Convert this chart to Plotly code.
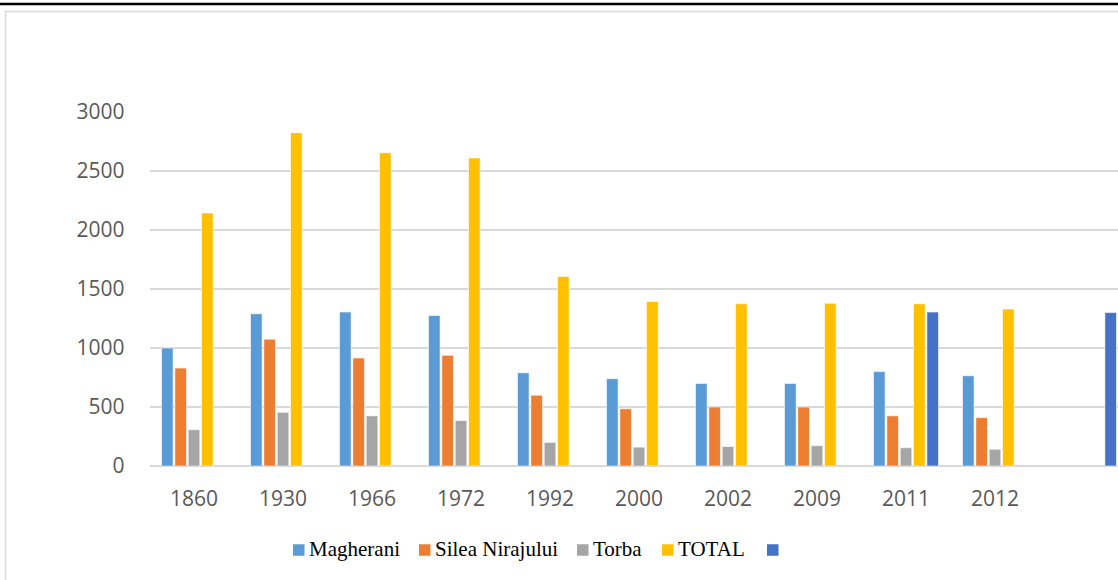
import plotly.graph_objects as go

years = ["1860", "1930", "1966", "1972", "1992", "2000", "2002", "2009", "2011", "2012", " "]
magherani = [1000, 1290, 1305, 1275, 790, 740, 700, 700, 800, 765, None]
silea = [830, 1075, 915, 938, 600, 485, 500, 500, 425, 410, None]
torba = [308, 455, 425, 385, 200, 160, 165, 172, 155, 142, None]
total = [2145, 2825, 2655, 2610, 1605, 1395, 1375, 1380, 1375, 1330, None]
extra = [None, None, None, None, None, None, None, None, 1305, None, 1300]

series_names = ["Magherani", "Silea Nirajului", "Torba", "TOTAL", ""]
series_values = [magherani, silea, torba, total, extra]
series_colors = ["#5B9BD5", "#ED7D31", "#A5A5A5", "#FFC000", "#4472C4"]

W, H = 1118, 580
fig = go.Figure()
for name, vals, col in zip(series_names, series_values, series_colors):
    fig.add_trace(go.Bar(x=years, y=vals, name=name or " ", showlegend=False,
                         marker=dict(color=col, line=dict(color="white", width=0.6))))

# legend drawn as layout items (swatch + text), Excel-like spacing
legend_x = [293, 419, 577, 662, 767]   # left edge of each swatch, px
legend_y = 550
sw = 11.5
shapes = [
    dict(type="rect", xref="paper", yref="paper", x0=5.5 / W, x1=1.02, y0=-0.05, y1=1 - 11.5 / H,
         line=dict(color="#D9D9D9", width=1.5), fillcolor="rgba(0,0,0,0)", layer="below"),
    dict(type="line", xref="paper", yref="paper", x0=0, x1=1, y0=1 - 4 / H, y1=1 - 4 / H,
         line=dict(color="black", width=2.5)),
]
annotations = []
for lx, name, col in zip(legend_x, series_names, series_colors):
    shapes.append(dict(type="rect", xref="paper", yref="paper",
                       x0=lx / W, x1=(lx + sw) / W,
                       y0=1 - (legend_y + sw / 2) / H, y1=1 - (legend_y - sw / 2) / H,
                       line=dict(width=0), fillcolor=col))
    if name:
        annotations.append(dict(text=name, xref="paper", yref="paper",
                                x=(lx + sw + 2.5) / W, y=1 - (legend_y - 1) / H,
                                xanchor="left", yanchor="middle", showarrow=False,
                                font=dict(family="Liberation Serif, Times New Roman, serif",
                                          size=21, color="black")))

tickfont = dict(family="Open Sans, sans-serif", size=21, color="#595959")
plot_left = 149.5
fig.update_layout(
    width=W, height=H,
    margin=dict(l=0, r=0, t=0, b=0, autoexpand=False),
    paper_bgcolor="white", plot_bgcolor="white",
    barmode="group", bargap=0.25, bargroupgap=0.13,
    showlegend=False,
    xaxis=dict(type="category", domain=[plot_left / W, 1.0],
               range=[-0.5, (W - plot_left) / 89.0 - 0.5],
               showgrid=False, showline=False, zeroline=False, automargin=False,
               ticks="", tickfont=tickfont, ticklabelstandoff=18),
    yaxis=dict(domain=[1 - 466 / H, 1 - 112 / H], range=[0, 3000],
               tickvals=[0, 500, 1000, 1500, 2000, 2500, 3000], automargin=False,
               showgrid=True, gridcolor="#D9D9D9", gridwidth=1.5,
               zeroline=True, zerolinecolor="#D9D9D9", zerolinewidth=1.5,
               showline=False, ticks="", tickfont=tickfont, ticklabelstandoff=24),
    shapes=shapes,
    annotations=annotations,
)

fig.write_html("out.html", config={"displayModeBar": False},
               post_script="document.body.style.margin='0px';document.body.style.overflow='hidden';")
